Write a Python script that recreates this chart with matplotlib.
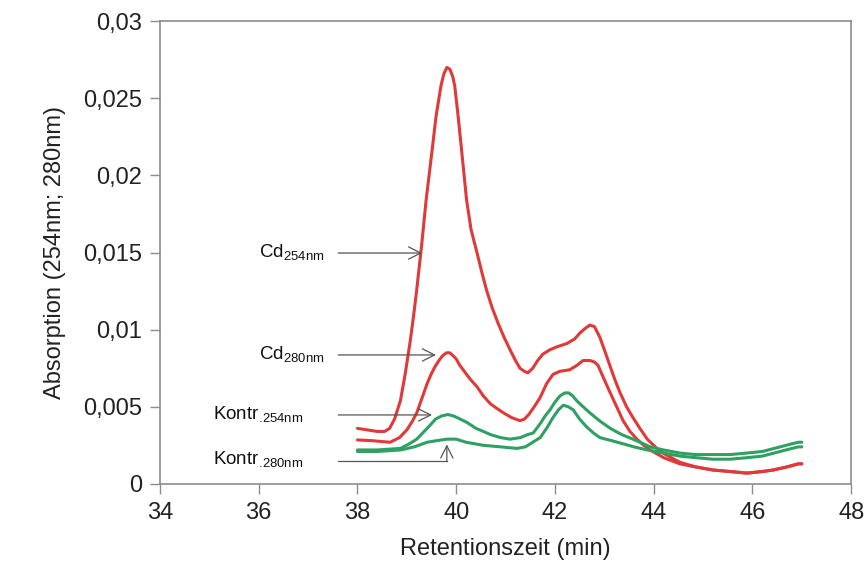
import matplotlib
matplotlib.use("Agg")
import matplotlib.pyplot as plt
from matplotlib.ticker import FixedLocator, FixedFormatter

plt.rcParams['font.family'] = ['Liberation Sans', 'DejaVu Sans']
plt.rcParams['mathtext.fontset'] = 'custom'
plt.rcParams['mathtext.rm'] = 'Liberation Sans'

# retention time (min) / absorption
cd254_t = [38.0, 38.2, 38.4, 38.55, 38.65, 38.75, 38.87, 38.97, 39.07, 39.14, 39.2, 39.3,
           39.39, 39.45, 39.51, 39.59, 39.69, 39.75, 39.81, 39.87, 39.93, 39.97, 40.04,
           40.11, 40.16, 40.21, 40.3, 40.42, 40.52, 40.62, 40.73, 40.85, 40.97, 41.09,
           41.2, 41.29, 41.38, 41.45, 41.55, 41.65, 41.75, 41.9, 42.05, 42.24, 42.4,
           42.51, 42.62, 42.71, 42.8, 42.91, 43.0, 43.12, 43.22, 43.32, 43.45, 43.58,
           43.72, 43.87, 44.0, 44.13, 44.3, 44.53, 44.85, 45.2, 45.55, 45.89, 46.2,
           46.42, 46.7, 46.93, 47.0]
cd254_a = [0.0036, 0.0035, 0.0034, 0.0034, 0.0036, 0.0042, 0.0054, 0.0072, 0.0093, 0.0110,
           0.0126, 0.0155, 0.0184, 0.0200, 0.0216, 0.0238, 0.0258, 0.0266, 0.0270, 0.0269,
           0.0264, 0.0258, 0.0238, 0.0216, 0.0200, 0.0184, 0.0165, 0.0150, 0.0137, 0.0125,
           0.0114, 0.0104, 0.0095, 0.0087, 0.0080, 0.0075, 0.0073, 0.0072, 0.0075, 0.0080,
           0.0084, 0.0087, 0.0089, 0.0091, 0.0094, 0.0098, 0.0101, 0.0103, 0.0102, 0.0095,
           0.0087, 0.0076, 0.0067, 0.0059, 0.0050, 0.0043, 0.0036, 0.0029, 0.0025, 0.0021,
           0.0018, 0.0014, 0.0011, 0.0009, 0.0008, 0.0007, 0.0008, 0.0009, 0.0011, 0.0013,
           0.0013]

cd280_t = [38.0, 38.3, 38.66, 38.85, 39.0, 39.1, 39.2, 39.3, 39.41, 39.49, 39.57, 39.65,
           39.72, 39.8, 39.87, 39.94, 40.0, 40.07, 40.14, 40.28, 40.42, 40.55, 40.69,
           40.82, 40.96, 41.12, 41.29, 41.38, 41.47, 41.58, 41.7, 41.83, 41.96, 42.1,
           42.3, 42.45, 42.57, 42.71, 42.8, 42.87, 42.98, 43.12, 43.25, 43.38, 43.52,
           43.66, 43.8, 43.93, 44.2, 44.53, 44.85, 45.2, 45.55, 45.89, 46.2, 46.42,
           46.7, 46.93, 47.0]
cd280_a = [0.00285, 0.0028, 0.0027, 0.0030, 0.0035, 0.0040, 0.0046, 0.0055, 0.0065, 0.0071,
           0.0076, 0.0080, 0.0083, 0.0085, 0.0085, 0.0083, 0.0081, 0.0077, 0.0074, 0.0068,
           0.0063, 0.0057, 0.0052, 0.0049, 0.0046, 0.0043, 0.0041, 0.0042, 0.0045, 0.0050,
           0.0056, 0.0065, 0.0071, 0.0073, 0.0074, 0.0077, 0.0080, 0.0080, 0.0079, 0.0077,
           0.0069, 0.0059, 0.0050, 0.0041, 0.0034, 0.0029, 0.0025, 0.0022, 0.0017, 0.0013,
           0.0011, 0.0009, 0.0008, 0.0007, 0.0008, 0.0009, 0.0011, 0.0013, 0.0013]

k254_t = [38.0, 38.4, 38.87, 39.05, 39.2, 39.35, 39.47, 39.58, 39.7, 39.83, 39.95, 40.08,
          40.21, 40.4, 40.55, 40.69, 40.9, 41.09, 41.3, 41.45, 41.56, 41.7, 41.8, 41.9,
          42.0, 42.1, 42.2, 42.28, 42.36, 42.44, 42.57, 42.71, 42.9, 43.12, 43.35, 43.58,
          43.93, 44.2, 44.53, 44.85, 45.2, 45.55, 45.89, 46.2, 46.56, 46.8, 46.93, 47.0]
k254_a = [0.0022, 0.0022, 0.0023, 0.0026, 0.0029, 0.0034, 0.0038, 0.0042, 0.0044, 0.0045,
          0.0044, 0.0042, 0.0040, 0.0036, 0.0034, 0.0032, 0.0030, 0.0029, 0.0030, 0.0032,
          0.0033, 0.0039, 0.0044, 0.0048, 0.0053, 0.0057, 0.0059, 0.0059, 0.0057, 0.0054,
          0.0050, 0.0046, 0.0041, 0.0036, 0.0032, 0.0029, 0.0024, 0.0022, 0.0020, 0.0019,
          0.0019, 0.0019, 0.0020, 0.0021, 0.0024, 0.0026, 0.0027, 0.0027]

k280_t = [38.0, 38.4, 38.87, 39.15, 39.41, 39.6, 39.81, 40.0, 40.2, 40.55, 40.9, 41.23,
          41.4, 41.55, 41.7, 41.83, 41.96, 42.07, 42.17, 42.27, 42.37, 42.5, 42.64, 42.78,
          42.91, 43.15, 43.38, 43.6, 43.87, 44.2, 44.53, 44.85, 45.2, 45.55, 45.89, 46.2,
          46.56, 46.8, 46.93, 47.0]
k280_a = [0.0021, 0.0021, 0.0022, 0.0024, 0.0027, 0.0028, 0.0029, 0.0029, 0.0027, 0.0025,
          0.0024, 0.0023, 0.0024, 0.0027, 0.0030, 0.0036, 0.0043, 0.0048, 0.0051, 0.0050,
          0.0048, 0.0042, 0.0037, 0.0033, 0.0030, 0.0028, 0.0026, 0.0024, 0.0022, 0.0020,
          0.0018, 0.0017, 0.0016, 0.0016, 0.0017, 0.0018, 0.0021, 0.0023, 0.0024, 0.0024]

x_ticks = [34, 36, 38, 40, 42, 44, 46, 48]
y_ticks = [0, 0.005, 0.01, 0.015, 0.02, 0.025, 0.03]
y_tick_labels = ['0', '0,005', '0,01', '0,015', '0,02', '0,025', '0,03']

red = '#e0393a'
green = '#2ea062'
frame = '#8c8c8c'

fig = plt.figure(figsize=(8.65, 5.74), dpi=100)
ax = fig.add_axes([0.185, 0.157, 0.799, 0.806])

for t, a, c in [(cd254_t, cd254_a, red), (cd280_t, cd280_a, red),
                (k254_t, k254_a, green), (k280_t, k280_a, green)]:
    ax.plot(t, a, color=c, lw=2.2, solid_joinstyle='round', solid_capstyle='round')

ax.set_xlim(34, 48)
ax.set_ylim(0, 0.03)
ax.xaxis.set_major_locator(FixedLocator(x_ticks))
ax.yaxis.set_major_locator(FixedLocator(y_ticks))
ax.yaxis.set_major_formatter(FixedFormatter(y_tick_labels))

for s in ax.spines.values():
    s.set_color(frame)
    s.set_linewidth(1.2)
ax.tick_params(direction='out', length=7, width=1.0, color=frame,
               labelsize=17, labelcolor='#222222', pad=6)

ax.set_xlabel('Retentionszeit (min)', fontsize=17, color='#222222', labelpad=10)
ax.set_ylabel('Absorption (254nm; 280nm)', fontsize=17, color='#222222', labelpad=12)

# labels with arrows pointing at the peaks
arrow = dict(arrowstyle='->', color='#555555', lw=0.9, mutation_scale=22,
             shrinkA=0, shrinkB=0)
lab = dict(fontsize=13.5, color='#111111', va='center', ha='left')

ax.text(36.0, 0.01495, r'Cd$_{\rm 254nm}$', **lab)
ax.annotate('', xy=(39.31, 0.01497), xytext=(37.61, 0.01497), arrowprops=arrow)

ax.text(36.0, 0.00836, r'Cd$_{\rm 280nm}$', **lab)
ax.annotate('', xy=(39.59, 0.00836), xytext=(37.61, 0.00836), arrowprops=arrow)

ax.text(35.07, 0.00447, r'Kontr$_{\rm{.}\!254nm}$', **lab)
ax.annotate('', xy=(39.51, 0.00447), xytext=(37.61, 0.00447), arrowprops=arrow)

ax.text(35.07, 0.00155, r'Kontr$_{\rm{.}\!280nm}$', **lab)
ax.plot([37.61, 39.81], [0.00149, 0.00149], color='#555555', lw=0.9)
ax.annotate('', xy=(39.81, 0.00256), xytext=(39.81, 0.00149), arrowprops=arrow)

fig.savefig('out.png', dpi=100)
